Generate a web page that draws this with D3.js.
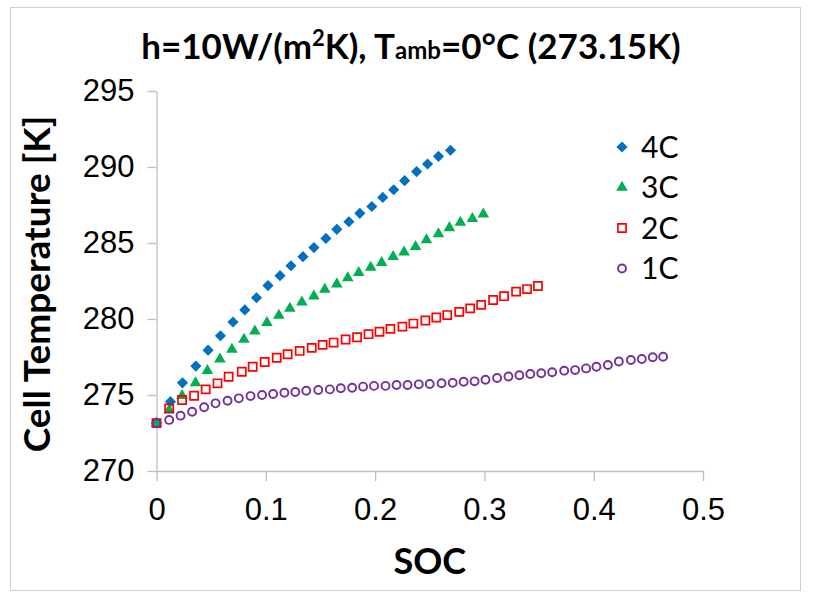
<!DOCTYPE html>
<html>
<head>
<meta charset="utf-8">
<script src="https://cdn.jsdelivr.net/npm/d3@7"></script>
<style>
  body { margin: 0; background: #fff; }
  svg { display: block; font-family: Lato, "Open Sans", sans-serif; }
</style>
</head>
<body>
<script>
// SOC (x) and cell temperature [K] (y)
const soc4C = [0, 0.0128, 0.0238, 0.036, 0.0472, 0.0585, 0.070, 0.0808, 0.0915, 0.102, 0.113, 0.123,
  0.134, 0.144, 0.155, 0.165, 0.176, 0.186, 0.197, 0.207, 0.217, 0.227, 0.238, 0.248, 0.258, 0.269]
const temp4C = [273.15, 274.56, 275.8, 276.9, 277.95, 278.9, 279.8, 280.6, 281.4, 282.2, 282.85, 283.5,
  284.1, 284.7, 285.3, 285.9, 286.4, 286.95, 287.4, 288.0, 288.5, 289.1, 289.7, 290.2, 290.7, 291.1]

const soc3C = [0, 0.0116, 0.0234, 0.0357, 0.0466, 0.058, 0.069, 0.080, 0.090, 0.101, 0.112, 0.122,
  0.133, 0.144, 0.154, 0.165, 0.175, 0.185, 0.196, 0.206, 0.2165, 0.2265, 0.237, 0.247, 0.258,
  0.268, 0.278, 0.289, 0.299]
const temp3C = [273.15, 274.0, 274.95, 275.8, 276.6, 277.35, 278.0, 278.66, 279.2, 279.76, 280.24, 280.7,
  281.1, 281.5, 281.95, 282.3, 282.7, 283.05, 283.4, 283.7, 284.1, 284.4, 284.76, 285.2, 285.6,
  286.0, 286.36, 286.6, 286.9]

const soc2C = [0, 0.0116, 0.0234, 0.0344, 0.045, 0.0558, 0.066, 0.078, 0.088, 0.099, 0.11, 0.12,
  0.131, 0.142, 0.152, 0.162, 0.173, 0.1835, 0.194, 0.204, 0.214, 0.225, 0.235, 0.246, 0.256,
  0.266, 0.277, 0.287, 0.297, 0.308, 0.318, 0.329, 0.339, 0.349]
const temp2C = [273.15, 274.12, 274.67, 274.95, 275.37, 275.77, 276.2, 276.53, 276.86, 277.17, 277.45, 277.68,
  277.9, 278.1, 278.3, 278.45, 278.65, 278.8, 279.0, 279.16, 279.35, 279.5, 279.7, 279.9, 280.1,
  280.26, 280.47, 280.7, 280.93, 281.25, 281.5, 281.8, 281.97, 282.17]

const soc1C = [0, 0.0116, 0.022, 0.0326, 0.0436, 0.054, 0.065, 0.0753, 0.086, 0.0966, 0.1067, 0.117,
  0.127, 0.137, 0.148, 0.1586, 0.1686, 0.179, 0.189, 0.199, 0.2095, 0.2196, 0.2297, 0.24, 0.25,
  0.2608, 0.271, 0.281, 0.291, 0.301, 0.3116, 0.322, 0.332, 0.342, 0.352, 0.362, 0.373, 0.383,
  0.393, 0.4025, 0.413, 0.423, 0.434, 0.444, 0.454, 0.4635]
const temp1C = [273.15, 273.36, 273.64, 273.9, 274.19, 274.45, 274.62, 274.78, 274.93, 275.0, 275.07, 275.15,
  275.2, 275.28, 275.33, 275.37, 275.44, 275.48, 275.55, 275.6, 275.6, 275.66, 275.66, 275.7, 275.72,
  275.77, 275.8, 275.87, 275.9, 276.0, 276.12, 276.22, 276.3, 276.38, 276.43, 276.5, 276.6, 276.64,
  276.75, 276.86, 276.97, 277.2, 277.3, 277.37, 277.48, 277.52]

const seriesNames = ['4C', '3C', '2C', '1C']
const xTicks = [0, 0.1, 0.2, 0.3, 0.4, 0.5]
const yTicks = [270, 275, 280, 285, 290, 295]

const series = [
  {name: '4C', soc: soc4C, temp: temp4C, color: '#0070c0', shape: 'diamond'},
  {name: '3C', soc: soc3C, temp: temp3C, color: '#00b050', shape: 'triangle'},
  {name: '2C', soc: soc2C, temp: temp2C, color: '#ff0000', shape: 'square'},
  {name: '1C', soc: soc1C, temp: temp1C, color: '#7030a0', shape: 'circle'},
]

const width = 814
const height = 597

const svg = d3.select('body').append('svg')
  .attr('viewBox', `0 0 ${width} ${height}`)
  .attr('width', width)
  .attr('height', height)

// outer chart frame
svg.append('rect')
  .attr('x', 10.5).attr('y', 7.5)
  .attr('width', 790).attr('height', 583)
  .attr('fill', 'none')
  .attr('stroke', '#d0d0d0')

const x = d3.scaleLinear().domain([0, 0.5]).range([156.5, 703])
const y = d3.scaleLinear().domain([270, 295]).range([471, 91])

const axisColor = '#bfbfbf'

const xAxis = g => g
  .attr('transform', `translate(0,${y(270)})`)
  .call(d3.axisBottom(x).tickValues(xTicks).tickFormat(d => d === 0 ? '0' : d3.format('.1f')(d))
    .tickSizeInner(10).tickSizeOuter(0).tickPadding(17))
  .call(g => g.selectAll('.domain, line').attr('stroke', axisColor).attr('stroke-width', 1.3))
  .call(g => g.selectAll('text').attr('font-size', 31).attr('fill', '#000').attr('font-family', null))

const yAxis = g => g
  .attr('transform', `translate(${x(0)},0)`)
  .call(d3.axisLeft(y).tickValues(yTicks).tickSizeInner(9).tickSizeOuter(0).tickPadding(13))
  .call(g => g.selectAll('.domain, line').attr('stroke', axisColor).attr('stroke-width', 1.3))
  .call(g => g.selectAll('text').attr('font-size', 31).attr('fill', '#000').attr('font-family', null))

svg.append('g').call(xAxis)
svg.append('g').call(yAxis)

const shapes = {
  diamond: d3.symbol(d3.symbolSquare, 62)(),
  triangle: d3.symbol(d3.symbolTriangle, 58)(),
  square: d3.symbol(d3.symbolSquare, 66)(),
  circle: d3.symbol(d3.symbolCircle, 50)(),
}

const hollow = s => s.shape === 'square' || s.shape === 'circle'

function marker(sel, s) {
  sel.attr('d', shapes[s.shape])
    .attr('fill', hollow(s) ? 'none' : s.color)
    .attr('stroke', hollow(s) ? s.color : 'none')
    .attr('stroke-width', s.shape === 'circle' ? 1.9 : 1.7)
}

const rot = s => s.shape === 'diamond' ? ' rotate(45)' : ''

const plot = svg.append('g')
series.forEach(s => {
  plot.append('g')
    .selectAll('path')
    .data(s.soc.map((v, i) => [v, s.temp[i]]))
    .join('path')
      .attr('transform', d => `translate(${x(d[0])},${y(d[1])})${rot(s)}`)
      .call(marker, s)
})

// legend
const legend = svg.append('g')
series.forEach((s, i) => {
  const ly = 147 + i * 40.5
  legend.append('path')
    .attr('transform', `translate(622,${ly})${rot(s)}`)
    .call(marker, s)
  legend.append('text')
    .attr('x', 641).attr('y', ly)
    .attr('dy', '0.36em')
    .attr('font-size', 30)
    .text(seriesNames[i])
})

// title
const title = svg.append('text')
  .attr('x', 411).attr('y', 59)
  .attr('text-anchor', 'middle')
  .attr('font-size', 35)
  .attr('font-weight', 'bold')
title.append('tspan').text('h=10W/(m')
title.append('tspan').attr('font-size', 22).attr('dy', -13).text('2')
title.append('tspan').attr('dy', 13).text('K), T')
title.append('tspan').attr('font-size', 24).text('amb')
title.append('tspan').text('=0°C (273.15K)')

// axis titles
svg.append('text')
  .attr('transform', `translate(50,${y(282.3)}) rotate(-90)`)
  .attr('text-anchor', 'middle')
  .attr('font-size', 37)
  .attr('font-weight', 'bold')
  .text('Cell Temperature [K]')

svg.append('text')
  .attr('x', x(0.25)).attr('y', 574)
  .attr('text-anchor', 'middle')
  .attr('font-size', 36)
  .attr('font-weight', 'bold')
  .text('SOC')
</script>
</body>
</html>
